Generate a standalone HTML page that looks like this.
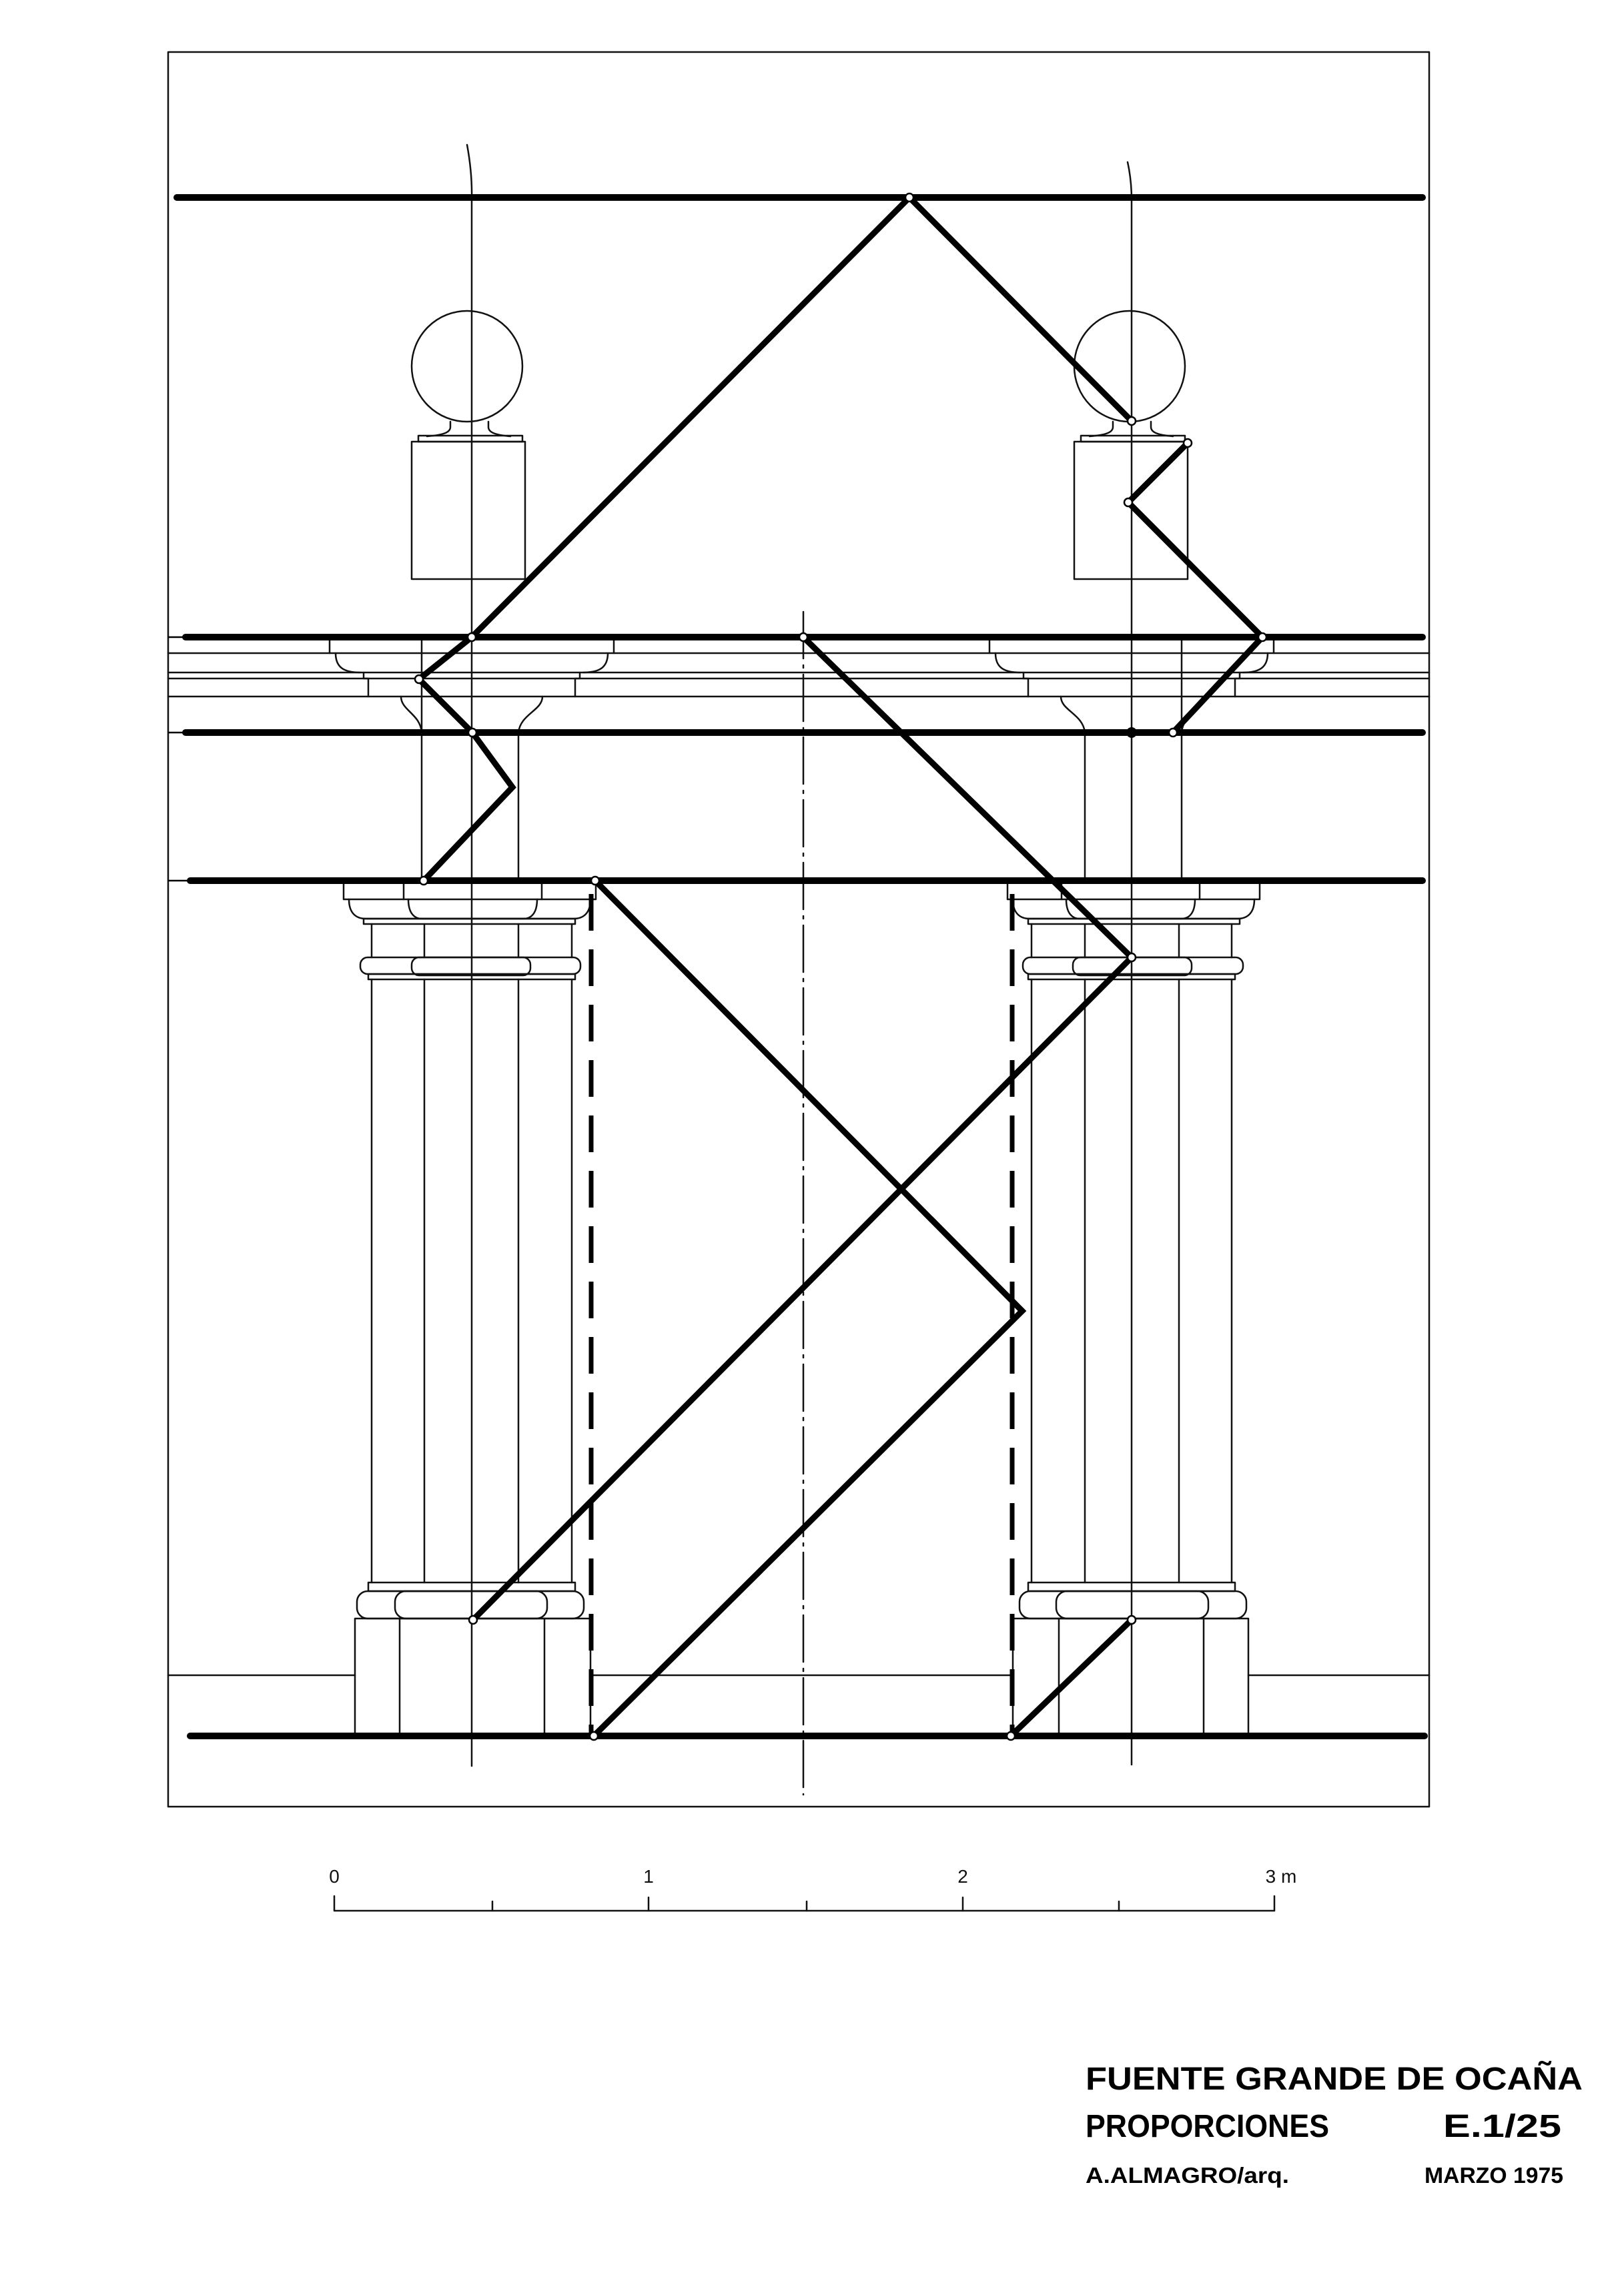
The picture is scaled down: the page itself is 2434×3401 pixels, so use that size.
<!DOCTYPE html>
<html><head><meta charset="utf-8"><style>html,body{margin:0;padding:0;background:#fff}svg{display:block}</style></head>
<body>
<svg width="2434" height="3401" viewBox="0 0 2434 3401" xmlns="http://www.w3.org/2000/svg">
<rect width="2434" height="3401" fill="#fff"/>
<g fill="none" stroke="#111" stroke-width="2.5" stroke-linecap="round" stroke-linejoin="round">
<!-- frame -->
<rect x="252" y="78" width="1890" height="2630"/>
<!-- cornice thin lines -->
<line x1="252" y1="979" x2="2142" y2="979"/>
<line x1="252" y1="1008" x2="2142" y2="1008"/>
<line x1="252" y1="1017" x2="2142" y2="1017"/>
<line x1="252" y1="1044" x2="2142" y2="1044"/>
<!-- ground line -->
<line x1="252" y1="2511" x2="532" y2="2511"/>
<line x1="885" y1="2511" x2="1518" y2="2511"/>
<line x1="1871" y1="2511" x2="2142" y2="2511"/>
<!-- axes -->
<path d="M700,217 Q708,260 707,300 L707,2647"/>
<path d="M1690,243 Q1696,270 1696,300 L1696,2645"/>
<line x1="1204" y1="917" x2="1204" y2="2690" stroke-dasharray="70 10 4 10"/>
<!-- finial left -->
<g id="fin">
<circle cx="700" cy="549" r="83"/>
<path d="M675,632 L675,640 C675,648 665,652 640,654 M732,632 L732,640 C732,648 742,652 765,654"/>
<rect x="627" y="653" width="156" height="9"/>
<rect x="617" y="662" width="170" height="206"/>
</g>
<use href="#fin" transform="translate(993,0)"/>
<!-- left column group + cornice profile -->
<g id="col">
<path d="M494,955 L494,979 M920,955 L920,979"/>
<path d="M503,979 C503,1000 515,1008 540,1008 M911,979 C911,1000 899,1008 874,1008"/>
<path d="M545,1008 L545,1017 L552,1017 L552,1044 M869,1008 L869,1017 L862,1017 L862,1044"/>
<path d="M601,1044 C601,1065 630,1070 632,1098 M813,1044 C813,1065 780,1070 777,1098"/>
<line x1="632" y1="955" x2="632" y2="1320"/>
<line x1="777" y1="1098" x2="777" y2="1320"/>
<rect x="515" y="1320" width="378" height="28"/>
<line x1="605" y1="1320" x2="605" y2="1348"/>
<line x1="812" y1="1320" x2="812" y2="1348"/>
<path d="M523,1348 C523,1370 535,1377 548,1377 L860,1377 C873,1377 885,1370 885,1348"/>
<path d="M612,1348 C612,1370 622,1377 632,1377 L785,1377 C795,1377 805,1370 805,1348"/>
<rect x="545" y="1377" width="317" height="8"/>
<line x1="557" y1="1385" x2="557" y2="1435"/><line x1="636" y1="1385" x2="636" y2="1435"/>
<line x1="777" y1="1385" x2="777" y2="1435"/><line x1="857" y1="1385" x2="857" y2="1435"/>
<rect x="540" y="1435" width="330" height="25" rx="11"/>
<rect x="617" y="1435" width="178" height="27" rx="11"/>
<rect x="552" y="1460" width="310" height="8"/>
<line x1="557" y1="1468" x2="557" y2="2372"/><line x1="636" y1="1468" x2="636" y2="2372"/>
<line x1="777" y1="1468" x2="777" y2="2372"/><line x1="857" y1="1468" x2="857" y2="2372"/>
<rect x="552" y="2372" width="310" height="13"/>
<rect x="535" y="2385" width="340" height="41" rx="16"/>
<rect x="592" y="2385" width="228" height="41" rx="16"/>
<rect x="532" y="2426" width="353" height="176"/>
<line x1="599" y1="2426" x2="599" y2="2602"/>
<line x1="816" y1="2426" x2="816" y2="2602"/>
</g>
<use href="#col" transform="matrix(-1 0 0 1 2403 0)"/>
<!-- scale bar -->
<path d="M501,2842 L501,2864 L1910,2864 L1910,2842"/>
<line x1="738" y1="2850" x2="738" y2="2864"/><line x1="972" y1="2844" x2="972" y2="2864"/>
<line x1="1209" y1="2850" x2="1209" y2="2864"/><line x1="1443" y1="2844" x2="1443" y2="2864"/>
<line x1="1677" y1="2850" x2="1677" y2="2864"/>
</g>
<!-- heavy horizontal lines -->
<g stroke="#000" stroke-width="10" stroke-linecap="round">
<line x1="265" y1="296" x2="2132" y2="296"/>
<line x1="278" y1="955" x2="2132" y2="955"/>
<line x1="278" y1="1098" x2="2132" y2="1098"/>
<line x1="285" y1="1320" x2="2132" y2="1320"/>
<line x1="285" y1="2602" x2="2135" y2="2602"/>
</g>
<line x1="252" y1="955" x2="280" y2="955" stroke="#000" stroke-width="2.5"/>
<line x1="252" y1="1098" x2="280" y2="1098" stroke="#000" stroke-width="2.5"/>
<line x1="252" y1="1320" x2="285" y2="1320" stroke="#000" stroke-width="2.5"/>
<!-- dashed verticals -->
<g stroke="#000" stroke-width="7" stroke-dasharray="55 28">
<line x1="886" y1="1340" x2="886" y2="2598"/>
<line x1="1517" y1="1340" x2="1517" y2="2598"/>
</g>
<!-- diagonals -->
<g fill="none" stroke="#000" stroke-width="9" stroke-linejoin="miter">
<polyline points="707,955 1363,296 1696,631"/>
<polyline points="1780,664 1691,753 1892,955 1758,1098"/>
<polyline points="707,955 628,1018 708,1098 768,1180 635,1320"/>
<polyline points="1204,955 1696,1435 709,2428"/>
<polyline points="892,1320 1532,1965 890,2602"/>
<polyline points="1515,2602 1696,2428"/>
</g>
<!-- nodes -->
<g fill="#fff" stroke="#000" stroke-width="2.5">
<circle cx="1363" cy="296" r="6"/><circle cx="1696" cy="631" r="6"/><circle cx="1780" cy="664" r="6"/>
<circle cx="1691" cy="753" r="6"/><circle cx="1892" cy="955" r="6"/><circle cx="1758" cy="1098" r="6"/>
<circle cx="707" cy="955" r="6"/><circle cx="628" cy="1018" r="6"/><circle cx="708" cy="1098" r="6"/>
<circle cx="635" cy="1320" r="6"/><circle cx="1204" cy="955" r="6"/><circle cx="1696" cy="1435" r="6"/>
<circle cx="709" cy="2428" r="6"/><circle cx="892" cy="1320" r="6"/><circle cx="890" cy="2602" r="6"/>
<circle cx="1515" cy="2602" r="6"/><circle cx="1696" cy="2428" r="6"/>
</g>
<circle cx="1696" cy="1098" r="8" fill="#000"/>
<!-- scale labels -->
<g font-family="Liberation Sans, sans-serif" font-size="28" fill="#111" text-anchor="middle">
<text x="501" y="2822">0</text><text x="972" y="2822">1</text><text x="1443" y="2822">2</text><text x="1920" y="2822">3 m</text>
</g>
<!-- title -->
<g font-family="Liberation Sans, sans-serif" font-weight="bold" fill="#000">
<text x="1627" y="3132" font-size="48" textLength="745" lengthAdjust="spacingAndGlyphs">FUENTE  GRANDE DE OCAÑA</text>
<text x="1627" y="3203" font-size="48" textLength="365" lengthAdjust="spacingAndGlyphs">PROPORCIONES</text>
<text x="2163" y="3203" font-size="48" textLength="177" lengthAdjust="spacingAndGlyphs">E.1/25</text>
<text x="1627" y="3272" font-size="33" textLength="305" lengthAdjust="spacingAndGlyphs">A.ALMAGRO/arq.</text>
<text x="2135" y="3272" font-size="33" textLength="208" lengthAdjust="spacingAndGlyphs">MARZO 1975</text>
</g>
</svg>
</body></html>
